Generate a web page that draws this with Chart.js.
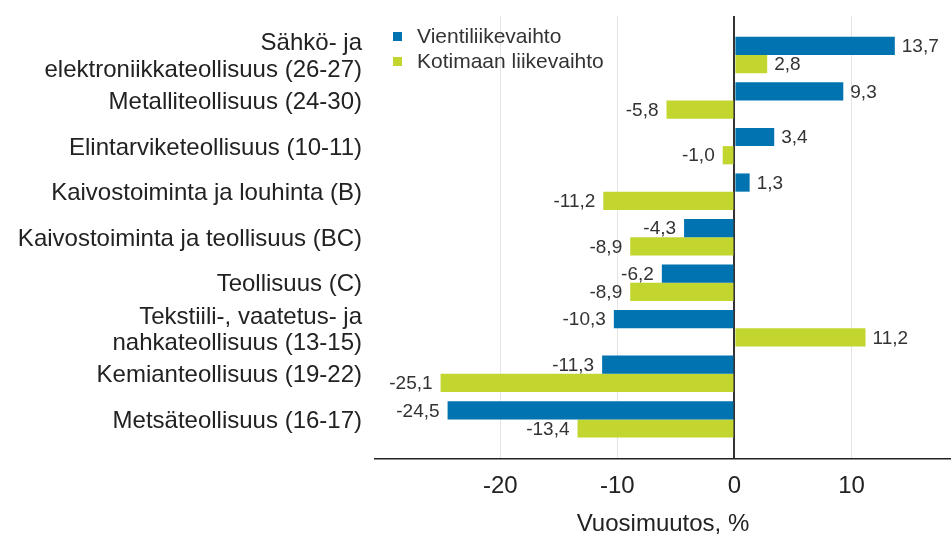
<!DOCTYPE html>
<html>
<head>
<meta charset="utf-8">
<script src="https://cdn.jsdelivr.net/npm/chart.js@4"></script>
<style>
    html, body { margin: 0; padding: 0; background: #fff; }
    #wrap { width: 951px; height: 536px; }
</style>
</head>
<body>
<div id="wrap"><canvas id="toimialaChart"></canvas></div>
<script>
// toimialat ylhäältä alas
const categories = [
    ["Sähkö- ja", "elektroniikkateollisuus (26-27)"],
    "Metalliteollisuus (24-30)",
    "Elintarviketeollisuus (10-11)",
    "Kaivostoiminta ja louhinta (B)",
    "Kaivostoiminta ja teollisuus (BC)",
    "Teollisuus (C)",
    ["Tekstiili-, vaatetus- ja", "nahkateollisuus (13-15)"],
    "Kemianteollisuus (19-22)",
    "Metsäteollisuus (16-17)"
];
const vientiValues = [13.7, 9.3, 3.4, 1.3, -4.3, -6.2, -10.3, -11.3, -24.5];
const kotimaaValues = [2.8, -5.8, -1.0, -11.2, -8.9, -8.9, 11.2, -25.1, -13.4];
const xTicks = [-20, -10, 0, 10];

const seriesNames = ["Vientiliikevaihto", "Kotimaan liikevaihto"];
const blue = "#0073b0";
const green = "#c2d62f";
const font = "'Liberation Sans', Arial, sans-serif";

const toPoints = arr => arr.map((v, i) => ({ x: v, y: i }));

// arvot palkkien päähän
const valueLabels = {
    id: "valueLabels",
    afterDatasetsDraw(chart) {
        const c = chart.ctx;
        c.save();
        c.font = "19px " + font;
        c.fillStyle = "#333";
        c.textBaseline = "middle";
        chart.data.datasets.forEach((ds, di) => {
            const meta = chart.getDatasetMeta(di);
            meta.data.forEach((bar, i) => {
                const v = ds.data[i].x;
                const txt = v.toFixed(1).replace(".", ",");
                if (v >= 0) {
                    c.textAlign = "left";
                    c.fillText(txt, bar.x + 7, bar.y + 1);
                } else {
                    c.textAlign = "right";
                    c.fillText(txt, bar.x - 8, bar.y + 1);
                }
            });
        });
        c.restore();
    }
};

// toimialojen nimet y-akselille (monirivinen)
const categoryLabels = {
    id: "categoryLabels",
    afterDraw(chart) {
        const c = chart.ctx;
        const yScale = chart.scales.y;
        const right = chart.chartArea.left - 13;
        const lineH = 26.5;
        c.save();
        c.font = "24px " + font;
        c.fillStyle = "#222";
        c.textAlign = "right";
        c.textBaseline = "middle";
        categories.forEach((cat, i) => {
            const lines = Array.isArray(cat) ? cat : [cat];
            const y = yScale.getPixelForValue(i) + 2;
            let ly = y - (lines.length - 1) * lineH / 2;
            lines.forEach(line => {
                c.fillText(line, right, ly);
                ly += lineH;
            });
        });
        c.restore();
    }
};

// selite kuvaajan sisälle vasempaan yläkulmaan
const innerLegend = {
    id: "innerLegend",
    afterDraw(chart) {
        const c = chart.ctx;
        const left = chart.chartArea.left + 18;
        let top = chart.chartArea.top + 16;
        c.save();
        c.font = "21px " + font;
        c.textBaseline = "middle";
        c.textAlign = "left";
        chart.data.datasets.forEach(ds => {
            c.fillStyle = ds.backgroundColor;
            c.fillRect(left, top, 9, 9);
            c.fillStyle = "#333";
            c.fillText(ds.label, left + 24, top + 5);
            top += 25;
        });
        c.restore();
    }
};

new Chart(document.getElementById("toimialaChart"), {
    type: "bar",
    data: {
        datasets: [
            {
                label: seriesNames[0],
                data: toPoints(vientiValues),
                backgroundColor: blue,
                borderWidth: 0
            },
            {
                label: seriesNames[1],
                data: toPoints(kotimaaValues),
                backgroundColor: green,
                borderWidth: 0
            }
        ]
    },
    options: {
        indexAxis: "y",
        responsive: true,
        maintainAspectRatio: false,
        animation: false,
        categoryPercentage: 0.8,
        barPercentage: 1,
        layout: {
            padding: { top: 16, right: 0, bottom: 0, left: 0 }
        },
        plugins: {
            legend: { display: false },
            tooltip: { enabled: false }
        },
        scales: {
            x: {
                type: "linear",
                min: -30.7,
                max: 18.5,
                afterBuildTicks: scale => {
                    scale.ticks = xTicks.map(v => ({ value: v }));
                },
                afterFit: scale => {
                    scale.height = 77;
                },
                grid: {
                    drawTicks: false,
                    color: ctx => ctx.tick && ctx.tick.value === 0 ? "#333" : "#e3e3e3",
                    lineWidth: ctx => ctx.tick && ctx.tick.value === 0 ? 2 : 1
                },
                border: { color: "#222", width: 1.5 },
                ticks: {
                    padding: 13,
                    color: "#222",
                    font: { family: font, size: 24 }
                },
                title: {
                    display: true,
                    text: "Vuosimuutos, %",
                    color: "#222",
                    font: { family: font, size: 24, lineHeight: 1.0 },
                    padding: { top: 9, bottom: 0 }
                }
            },
            y: {
                type: "linear",
                reverse: true,
                offset: false,
                min: -0.857,
                max: 8.87,
                afterBuildTicks: scale => {
                    scale.ticks = categories.map((c, i) => ({ value: i }));
                },
                afterFit: scale => {
                    scale.width = 375;
                },
                grid: { display: false },
                border: { display: false },
                ticks: { display: false }
            }
        }
    },
    plugins: [valueLabels, categoryLabels, innerLegend]
});
</script>
</body>
</html>
